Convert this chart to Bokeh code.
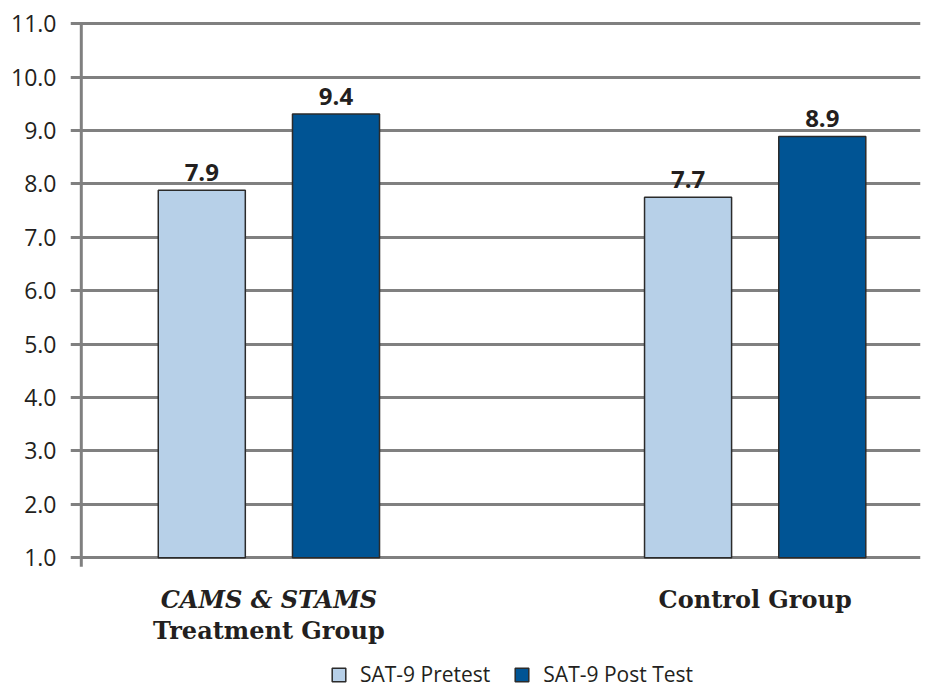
from bokeh.plotting import figure
from bokeh.models import Range1d, FixedTicker, NumeralTickFormatter, Legend, LegendItem
from bokeh.core.properties import value
from bokeh.embed import file_html
from bokeh.resources import INLINE

# ---- data ----
groups = ["CAMS & STAMS Treatment Group", "Control Group"]
cat_line1 = ["CAMS & STAMS", "Control Group"]
cat_line2 = ["Treatment Group", ""]
series_names = ["SAT-9 Pretest", "SAT-9 Post Test"]
pretest = [7.88, 7.75]
posttest = [9.31, 8.89]
pretest_labels = ["7.9", "7.7"]
posttest_labels = ["9.4", "8.9"]
y_ticks = [1.0, 2.0, 3.0, 4.0, 5.0, 6.0, 7.0, 8.0, 9.0, 10.0, 11.0]

# ---- styles ----
PRE_COLOR = "#b7d0e8"
POST_COLOR = "#005494"
GRID = "#808080"
TEXT = "#231f20"
OFFSET = 0.138
BAR_W = 0.179

p = figure(width=923, height=690,
           x_range=Range1d(-0.408, 1.340), y_range=Range1d(-1.487, 11.06),
           output_backend="svg", toolbar_location=None, x_axis_location=None,
           min_border_left=70, min_border_right=3, min_border_top=20, min_border_bottom=0)
p.outline_line_color = None
p.xgrid.visible = False
p.ygrid.ticker = FixedTicker(ticks=y_ticks)
p.ygrid.grid_line_color = GRID
p.ygrid.grid_line_width = 3

ax = p.yaxis[0]
ax.ticker = FixedTicker(ticks=y_ticks)
ax.formatter = NumeralTickFormatter(format="0.0")
ax.axis_line_color = None
ax.major_tick_line_color = None
ax.minor_tick_line_color = None
ax.major_tick_out = 0
ax.major_tick_in = 0
ax.major_label_standoff = 14
ax.major_label_text_font = "Open Sans"
ax.major_label_text_font_size = "23px"
ax.major_label_text_color = TEXT

# vertical axis line
ax_x = -0.3858
p.segment(x0=[ax_x], y0=[0.83], x1=[ax_x], y1=[y_ticks[-1]], line_color=GRID, line_width=3)

base = y_ticks[0]
idx = list(range(len(groups)))
x_pre = [i - OFFSET for i in idx]
x_post = [i + OFFSET for i in idx]

r_pre = p.vbar(x=x_pre, top=pretest, bottom=base, width=BAR_W,
               fill_color=PRE_COLOR, line_color="#2b2b2b", line_width=1.5)
r_post = p.vbar(x=x_post, top=posttest, bottom=base, width=BAR_W,
                fill_color=POST_COLOR, line_color="#2b2b2b", line_width=1.5)

for xs, ys, labs in [(x_pre, pretest, pretest_labels), (x_post, posttest, posttest_labels)]:
    p.text(x=xs, y=ys, text=labs, text_align="center", text_baseline="bottom",
           y_offset=-9, text_font=value("Open Sans"), text_font_style="bold",
           text_font_size="24px", text_color=TEXT)

# category labels
p.text(x=[0], y=[0.21], text=[cat_line1[0]], text_align="center", text_baseline="alphabetic",
       text_font=value("DejaVu Serif"), text_font_style="bold italic",
       text_font_size="24px", text_color=TEXT)
p.text(x=[1], y=[0.21], text=[cat_line1[1]], text_align="center", text_baseline="alphabetic",
       text_font=value("DejaVu Serif"), text_font_style="bold",
       text_font_size="24px", text_color=TEXT)
p.text(x=[0], y=[-0.37], text=[cat_line2[0]], text_align="center", text_baseline="alphabetic",
       text_font=value("DejaVu Serif"), text_font_style="bold",
       text_font_size="24px", text_color=TEXT)

legend = Legend(items=[LegendItem(label=series_names[0], renderers=[r_pre]),
                       LegendItem(label=series_names[1], renderers=[r_post])],
                orientation="horizontal", location=(260, 2),
                label_text_font="Open Sans", label_text_font_size="21px",
                label_text_color=TEXT,
                glyph_width=17, glyph_height=17, label_standoff=13, spacing=23,
                padding=0, margin=0, border_line_color=None, background_fill_alpha=0)
p.add_layout(legend)

open("out.html", "w").write(file_html(p, INLINE))
